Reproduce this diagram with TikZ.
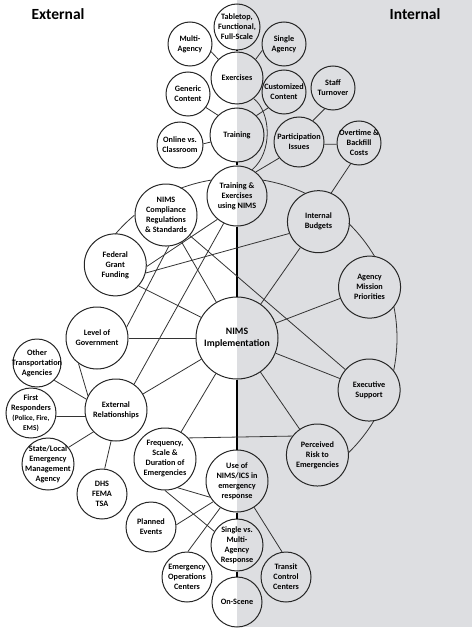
\documentclass[tikz,border=0pt]{standalone}
\usepackage{fontspec}
\setmainfont{Carlito}
\usetikzlibrary{calc}
\definecolor{bgray}{RGB}{221,222,225}
\begin{document}
\begin{tikzpicture}[x=1pt,y=-1pt,
  bub/.style={circle,draw=black!85,line width=1pt,inner sep=-10pt,align=center,
    font=\fontsize{8.2}{10}\selectfont\bfseries},
  conn/.style={draw=black!80,line width=0.8pt},
  vline/.style={draw=black,line width=1.1pt},
  ttl/.style={font=\fontsize{15.5}{18}\selectfont\bfseries,anchor=base,inner sep=0pt}]
\useasboundingbox (0,0) rectangle (474,631);
\fill[bgray] (237,0) rectangle (472,627);
\node[ttl] (extt) at (58,20) {External};
\node[ttl] (intt) at (415,20) {Internal};
% top cluster
\node[bub,minimum size=46pt] (tab) at (237,27) {Tabletop,\\Functional,\\Full-Scale};
\node[bub,minimum size=44pt] (mua) at (190,44) {Multi-\\Agency};
\node[bub,minimum size=44pt] (sia) at (284,44) {Single\\Agency};
\node[bub,minimum size=52pt] (exe) at (237,78) {Exercises};
\node[bub,minimum size=44pt] (gen) at (188,94) {Generic\\Content};
\node[bub,minimum size=44pt] (cus) at (284,92) {Customized\\Content};
\node[bub,minimum size=44pt] (sta) at (333,88) {Staff\\Turnover};
\node[bub,minimum size=54pt] (trn) at (237,135) {Training};
\node[bub,minimum size=46pt] (onl) at (180,145) {Online vs.\\Classroom};
\node[bub,minimum size=50pt] (par) at (299,142) {Participation\\Issues};
\node[bub,minimum size=44pt] (ove) at (359,143) {Overtime \&\\Backfill\\Costs};
% centre and ring
\node[bub,minimum size=82pt,font=\fontsize{9.8}{12}\selectfont\bfseries] (imp) at (237,338) {NIMS\\Implementation};
\node[bub,minimum size=60pt] (te) at ($(imp)+(90:142pt)$) {Training \&\\Exercises\\using NIMS};
\node[bub,minimum size=62pt] (nc) at ($(imp)+(120:142pt)$) {NIMS\\Compliance\\Regulations\\\& Standards};
\node[bub,minimum size=62pt] (fg) at ($(imp)+(149:142pt)$) {Federal\\Grant\\Funding};
\node[bub,minimum size=62pt] (ib) at ($(imp)+(55:142pt)$) {Internal\\Budgets};
\node[bub,minimum size=62pt] (amp) at ($(imp)+(21:142pt)$) {Agency\\Mission\\Priorities};
\node[bub,minimum size=62pt] (es) at ($(imp)+(-21.5:142pt)$) {Executive\\Support};
\node[bub,minimum size=62pt] (pr) at ($(imp)+(-55.5:142pt)$) {Perceived\\Risk to\\Emergencies};
% left cluster
\node[bub,minimum size=62pt] (log) at (97,338) {Level of\\Government};
\node[bub,minimum size=48pt] (otr) at (37,363) {Other\\Transportation\\Agencies};
\node[bub,minimum size=50pt] (fir) at (31,413) {First\\Responders\\{\fontsize{7.3}{9}\selectfont(Police, Fire,}\\{\fontsize{7.3}{9}\selectfont EMS)}};
\node[bub,minimum size=62pt] (ext) at (116,410) {External\\Relationships};
\node[bub,minimum size=52pt] (slm) at (48,464) {State/Local\\Emergency\\Management\\Agency};
\node[bub,minimum size=50pt] (dhs) at (102,494) {DHS\\FEMA\\TSA};
% bottom cluster
\node[bub,minimum size=62pt] (fre) at (165,459) {Frequency,\\Scale \&\\Duration of\\Emergencies};
\node[bub,minimum size=62pt] (use) at (237,481) {Use of\\NIMS/ICS in\\emergency\\response};
\node[bub,minimum size=50pt] (pla) at (151,527) {Planned\\Events};
\node[bub,minimum size=52pt] (smr) at (237,545) {Single vs.\\Multi-\\Agency\\Response};
\node[bub,minimum size=50pt] (eoc) at (187,577) {Emergency\\Operations\\Centers};
\node[bub,minimum size=50pt] (tcc) at (286,577) {Transit\\Control\\Centers};
\node[bub,minimum size=50pt] (ons) at (237,602) {On-Scene};
% vertical spine
\draw[vline] (tab) -- (exe);
\draw[vline] (trn) -- (te);
\draw[vline] (te) -- (imp);
\draw[vline] (imp) -- (use);
\draw[vline] (use) -- (smr);
\draw[vline] (smr) -- (ons);
% top connectors
\draw[conn] (mua.-20) -- (exe.135);
\draw[conn] (sia.196) -- (exe.45);
\draw[conn] (gen.-37) -- (trn.134);
\draw[conn] (cus.225) -- (trn.45);
\draw[conn] (onl.3) -- (trn.195);
\draw[conn] (sta.248) -- (par.57);
\draw[conn] (par.-5) -- (ove.183);
\draw[conn] (ove.248) -- (ib.66);
\draw[conn] (te.52) -- (par.219);
\draw[conn] (exe.-51) .. controls (271,112) and (273,152) .. (te.60);
% ring arcs
\draw[conn] ($(imp)+(139.5:160pt)$) arc[start angle=139.5,end angle=129.9,radius=160pt];
\draw[conn] ($(imp)+(110.7:160pt)$) arc[start angle=110.7,end angle=99.1,radius=160pt];
\draw[conn] ($(imp)+(80.9:160pt)$) arc[start angle=80.9,end angle=64.9,radius=160pt];
\draw[conn] ($(imp)+(45.7:160pt)$) arc[start angle=45.7,end angle=30.6,radius=160pt];
\draw[conn] ($(imp)+(11.4:160pt)$) arc[start angle=11.4,end angle=-11.9,radius=160pt];
\draw[conn] ($(imp)+(-31.1:160pt)$) arc[start angle=-31.1,end angle=-45.9,radius=160pt];
% middle connectors
\draw[conn] (te.-130) -- (fg.-3);
\draw[conn] (fg.-15) -- (ib.202);
\draw[conn] (te.-116) -- (ext.55);
\draw[conn] (nc.-85) -- (log.20);
\draw[conn] (nc) -- (imp);
\draw[conn] (nc) -- (es);
\draw[conn] (fg.-42) -- (imp.150);
\draw[conn] (log) -- (imp);
\draw[conn] (ib) -- (imp);
\draw[conn] (amp) -- (imp);
\draw[conn] (es) -- (imp);
\draw[conn] (pr) -- (imp);
\draw[conn] (ext) -- (imp);
\draw[conn] (fre) -- (imp);
% left connectors
\draw[conn] (log.-126) -- (ext.153);
\draw[conn] (otr.-45) -- (ext.160);
\draw[conn] (fir.-8) -- (ext.192);
\draw[conn] (slm.39) -- (ext.-136);
\draw[conn] (dhs.84) -- (ext.-99);
% bottom connectors
\draw[conn] (fre.42) -- (pr.143.4);
\draw[conn] (fre.-66) -- (use.211);
\draw[conn] (fre.-90) -- (smr.149);
\draw[conn] (pla.5) -- (use.221);
\draw[conn] (eoc.88) -- (use.238);
\draw[conn] (use.-57) -- (tcc.99);
\end{tikzpicture}
\end{document}
